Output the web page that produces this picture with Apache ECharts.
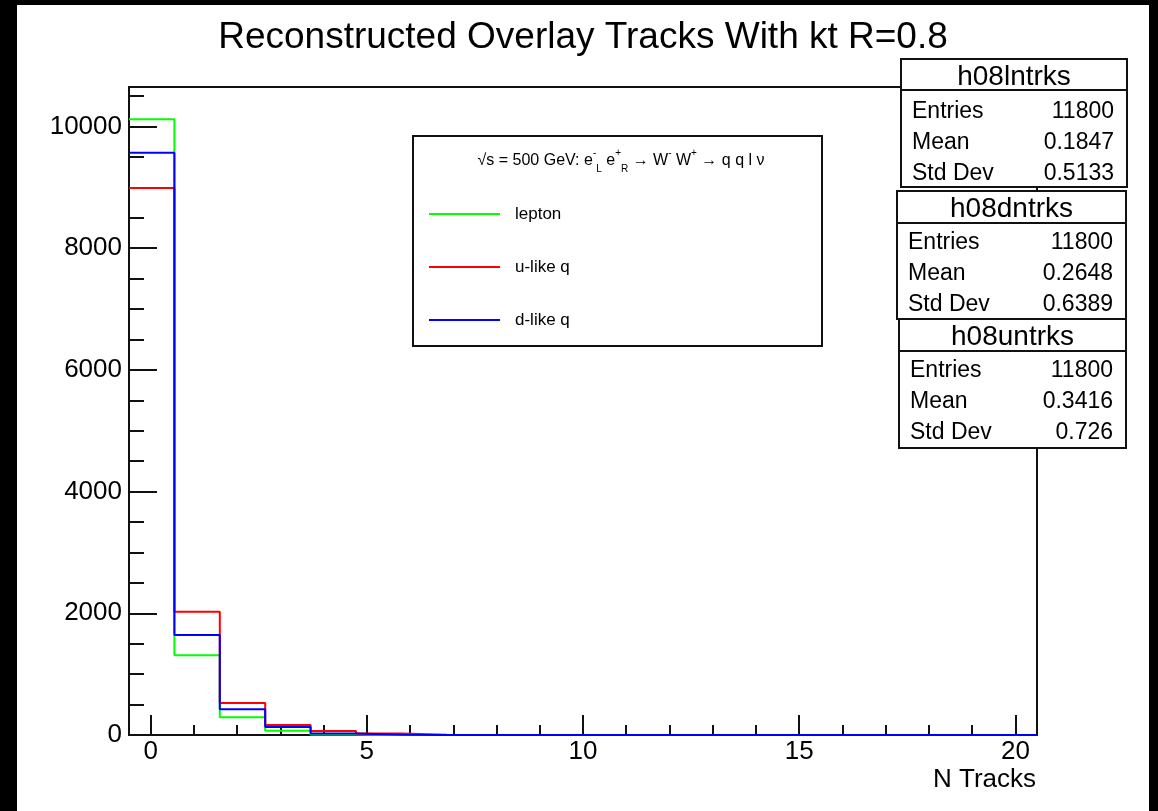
<!DOCTYPE html>
<html><head><meta charset="utf-8">
<script src="https://cdn.jsdelivr.net/npm/echarts@6/dist/echarts.min.js"></script>
<style>html,body{margin:0;padding:0;background:#fff}#c{width:1158px;height:811px}</style>
</head><body><div id="c"></div>
<script>
// ---- data ----
const binEdges = [-0.5, 0.55, 1.6, 2.65, 3.7, 4.75, 5.8, 6.85, 7.9, 8.95, 10.0, 11.05, 12.1, 13.15, 14.2, 15.25, 16.3, 17.35, 18.4, 19.45, 20.5];
const leptonCounts = [10120, 1310, 290, 70, 10, 0, 0, 0, 0, 0, 0, 0, 0, 0, 0, 0, 0, 0, 0, 0];
const uLikeCounts  = [8990, 2025, 525, 165, 65, 25, 5, 0, 0, 0, 0, 0, 0, 0, 0, 0, 0, 0, 0, 0];
const dLikeCounts  = [9570, 1645, 425, 130, 25, 5, 0, 0, 0, 0, 0, 0, 0, 0, 0, 0, 0, 0, 0, 0];
const seriesNames = ['lepton', 'u-like q', 'd-like q'];
const xMajorTicks = [0, 5, 10, 15, 20];
const xMinorTicks = [1, 2, 3, 4, 6, 7, 8, 9, 11, 12, 13, 14, 16, 17, 18, 19];
const yMajorTicks = [0, 2000, 4000, 6000, 8000, 10000];
const yMinorTicks = [500, 1000, 1500, 2500, 3000, 3500, 4500, 5000, 5500, 6500, 7000, 7500, 8500, 9000, 9500, 10500];
const yMax = 10650;
const titleText = 'Reconstructed Overlay Tracks With kt R=0.8';
const xAxisTitle = 'N Tracks';
const statNames = ['h08lntrks', 'h08dntrks', 'h08untrks'];
const statEntries = ['11800', '11800', '11800'];
const statMeans = ['0.1847', '0.2648', '0.3416'];
const statStdDevs = ['0.5133', '0.6389', '0.726'];

// ---- styling / layout ----
const FONT = '"Liberation Sans", Arial, Helvetica, sans-serif';
const colors = ['#00ff00', '#ff0000', '#0000ff'];
const countsList = [leptonCounts, uLikeCounts, dLikeCounts];
const statBoxGeom = [
  {x: 901, y: 59, w: 226, h: 128, sep: 31, row0: 22, hdr: 3},
  {x: 897, y: 191, w: 229, h: 128, sep: 32, row0: 20, hdr: 2},
  {x: 899, y: 319, w: 227, h: 129, sep: 32, row0: 20, hdr: 2}
];

function stepData(counts) {
  const d = [];
  for (let i = 0; i < counts.length; i++) d.push([binEdges[i], counts[i]]);
  d.push([binEdges[counts.length], counts[counts.length - 1]]);
  return d;
}

const chart = echarts.init(document.getElementById('c'), null, {renderer: 'canvas'});

const graphics = [];
// scan border artefacts
graphics.push({type: 'rect', shape: {x: 0, y: 0, width: 1158, height: 5}, style: {fill: '#000'}, z: 200, silent: true});
graphics.push({type: 'rect', shape: {x: 0, y: 0, width: 17, height: 811}, style: {fill: '#000'}, z: 200, silent: true});
graphics.push({type: 'rect', shape: {x: 1149, y: 0, width: 9, height: 811}, style: {fill: '#000'}, z: 200, silent: true});

// stat boxes
statBoxGeom.forEach((g, i) => {
  graphics.push({type: 'rect', shape: {x: g.x, y: g.y, width: g.w, height: g.h}, style: {fill: '#fff', stroke: '#111', lineWidth: 2}, z: 100});
  graphics.push({type: 'line', shape: {x1: g.x, y1: g.y + g.sep, x2: g.x + g.w, y2: g.y + g.sep}, style: {stroke: '#111', lineWidth: 2}, z: 101});
  graphics.push({type: 'text', x: g.x + g.w / 2, y: g.y + g.sep / 2 + g.hdr, z: 102,
    style: {text: statNames[i], font: '28px ' + FONT, fill: '#000', align: 'center', verticalAlign: 'middle'}});
  const labels = ['Entries', 'Mean', 'Std Dev'];
  const vals = [statEntries[i], statMeans[i], statStdDevs[i]];
  for (let r = 0; r < 3; r++) {
    const yy = g.y + g.sep + g.row0 + r * 31;
    graphics.push({type: 'text', x: g.x + 11, y: yy, z: 102,
      style: {text: labels[r], font: '23px ' + FONT, fill: '#000', align: 'left', verticalAlign: 'middle'}});
    graphics.push({type: 'text', x: g.x + g.w - 13, y: yy, z: 102,
      style: {text: vals[r], font: '23px ' + FONT, fill: '#000', align: 'right', verticalAlign: 'middle'}});
  }
});

// legend box + header
graphics.push({type: 'rect', shape: {x: 413, y: 136, width: 409, height: 210}, style: {fill: '#fff', stroke: '#111', lineWidth: 2}, z: 5});
graphics.push({type: 'text', x: 621, y: 161, z: 6,
  style: {
    text: '{a|√s = 500 GeV: e}{sup|-}{sub|L}{a| e}{sup|+}{sub|R}{a| → W}{sup|-}{a| W}{sup|+}{a| → q q l ν}',
    align: 'center', verticalAlign: 'middle',
    rich: {
      a: {font: '16px ' + FONT, fill: '#000', lineHeight: 26, verticalAlign: 'middle'},
      sup: {font: '10px ' + FONT, fill: '#000', lineHeight: 26, verticalAlign: 'top'},
      sub: {font: '10px ' + FONT, fill: '#000', lineHeight: 26, verticalAlign: 'bottom'}
    }
  }});

// x axis title
graphics.push({type: 'text', x: 1036, y: 780, z: 10,
  style: {text: xAxisTitle, font: '26px ' + FONT, fill: '#000', align: 'right', verticalAlign: 'middle'}});

const axisLineStyle = {color: '#111', width: 2};

const option = {
  animation: false,
  backgroundColor: '#fff',
  title: {
    text: titleText, left: 578, top: 14, textAlign: 'center',
    textStyle: {fontFamily: FONT, fontSize: 37, fontWeight: 'normal', color: '#000'}
  },
  grid: {left: 129, right: 121, top: 87, bottom: 76, containLabel: false, outerBoundsMode: 'none',
    show: true, borderColor: '#111', borderWidth: 2, backgroundColor: 'transparent'},
  legend: {
    data: seriesNames, orient: 'vertical', left: 429, top: 205, padding: 0,
    icon: 'rect', itemWidth: 71, itemHeight: 2, itemGap: 35, z: 10,
    textStyle: {fontFamily: FONT, fontSize: 17, lineHeight: 18, color: '#000', padding: [0, 0, 0, 10]}
  },
  xAxis: [
    {type: 'value', min: -0.5, max: 20.5, position: 'bottom',
     axisLine: {show: true, lineStyle: axisLineStyle, onZero: false},
     axisTick: {show: true, inside: true, length: 20, customValues: xMajorTicks, lineStyle: axisLineStyle},
     axisLabel: {show: true, customValues: xMajorTicks, margin: 4, fontFamily: FONT, fontSize: 26, color: '#000'},
     splitLine: {show: false}},
    {type: 'value', min: -0.5, max: 20.5, position: 'bottom',
     axisLine: {show: false, onZero: false},
     axisTick: {show: true, inside: true, length: 10, customValues: xMinorTicks, lineStyle: axisLineStyle},
     axisLabel: {show: false}, splitLine: {show: false}}
  ],
  yAxis: [
    {type: 'value', min: 0, max: yMax, position: 'left',
     axisLine: {show: true, lineStyle: axisLineStyle, onZero: false},
     axisTick: {show: true, inside: true, length: 28, customValues: yMajorTicks, lineStyle: axisLineStyle},
     axisLabel: {show: true, customValues: yMajorTicks, formatter: v => String(v), margin: 7, fontFamily: FONT, fontSize: 26, color: '#000'},
     splitLine: {show: false}},
    {type: 'value', min: 0, max: yMax, position: 'left',
     axisLine: {show: false, onZero: false},
     axisTick: {show: true, inside: true, length: 15, customValues: yMinorTicks, lineStyle: axisLineStyle},
     axisLabel: {show: false}, splitLine: {show: false}}
  ],
  series: seriesNames.map((name, i) => ({
    name: name, type: 'line', step: 'end', symbol: 'none', clip: false,
    xAxisIndex: 0, yAxisIndex: 0,
    data: stepData(countsList[i]),
    color: colors[i],
    lineStyle: {color: colors[i], width: 2},
    z: 3 + i
  })),
  graphic: graphics
};
chart.setOption(option);
</script>
</body></html>
